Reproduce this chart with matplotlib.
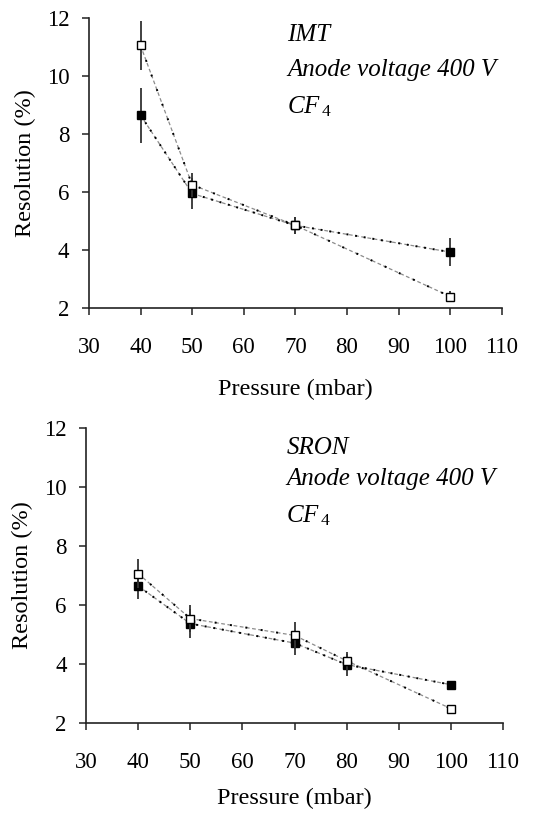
import matplotlib
matplotlib.use('Agg')
import matplotlib.pyplot as plt

plt.rcParams['font.family'] = ['Liberation Serif', 'DejaVu Serif']
plt.rcParams['mathtext.fontset'] = 'custom'
plt.rcParams['mathtext.rm'] = 'Liberation Serif'
plt.rcParams['mathtext.it'] = 'Liberation Serif:italic'

# --- data ---
imt_p = [40, 50, 70, 100]
imt_open = [11.05, 6.25, 4.85, 2.4]
imt_open_err = [0.85, 0.42, 0.28, 0.2]
imt_filled = [8.65, 5.95, 4.85, 3.93]
imt_filled_err = [0.95, 0.55, 0.28, 0.48]

sron_p = [40, 50, 70, 80, 100]
sron_open = [7.05, 5.53, 4.96, 4.1, 2.48]
sron_open_err = [0.5, 0.47, 0.44, 0.3, 0.0]
sron_filled = [6.63, 5.36, 4.7, 3.97, 3.29]
sron_filled_err = [0.43, 0.49, 0.42, 0.37, 0.0]

xticks = [30, 40, 50, 60, 70, 80, 90, 100, 110]
yticks = [2, 4, 6, 8, 10, 12]


def draw_panel(ax, p, opn, opn_err, fil, fil_err, lines, xpad):
    # grey dashed connecting lines plus sparse black dotted overlay
    ax.plot(p, fil, color='#8c8c8c', lw=0.9, dashes=(3, 2), zorder=1)
    ax.plot(p, opn, color='#8c8c8c', lw=0.9, dashes=(3, 2), zorder=1)
    ax.plot(p, fil, color='black', lw=1.4, dashes=(1, 3.5), zorder=1.5)
    ax.plot(p, opn, color='black', lw=1.4, dashes=(1, 7), zorder=1.5)

    ax.errorbar(p, fil, yerr=fil_err, fmt='s', color='#333333', ecolor='#333333',
                elinewidth=1.3, capsize=0, markersize=6, markerfacecolor='black',
                markeredgecolor='black', zorder=2)
    ax.errorbar(p, opn, yerr=opn_err, fmt='s', color='#333333', ecolor='#333333',
                elinewidth=1.3, capsize=0, markersize=6, markerfacecolor='white',
                markeredgecolor='black', markeredgewidth=1.0, zorder=3)

    ax.set_xlim(30, 110)
    ax.set_ylim(2, 12)
    ax.set_xticks(xticks)
    ax.set_yticks(yticks)
    ax.spines['top'].set_visible(False)
    ax.spines['right'].set_visible(False)
    for s in ['left', 'bottom']:
        ax.spines[s].set_linewidth(1.2)
        ax.spines[s].set_color('#222222')
    ax.tick_params(axis='x', direction='out', length=5, width=1.1, pad=16,
                   labelsize=16.5, color='#222222')
    ax.tick_params(axis='y', direction='out', length=5, width=1.1, pad=9,
                   labelsize=16.5, color='#222222')
    ax.set_xlabel('Pressure (mbar)', fontsize=17.5, labelpad=xpad)
    ax.set_ylabel('Resolution (%)', fontsize=17.5, labelpad=8)

    for (yf, txt) in lines:
        ax.text(0.48, yf, txt, transform=ax.transAxes, fontsize=18,
                style='italic', ha='left', va='center')


fig = plt.figure(figsize=(5.42, 8.13), dpi=100)
ax1 = fig.add_axes([0.164, 0.621, 0.762, 0.357])
ax2 = fig.add_axes([0.159, 0.111, 0.769, 0.363])

cf4 = r'$CF_{\,\mathit{4}}$'
draw_panel(ax1, imt_p, imt_open, imt_open_err, imt_filled, imt_filled_err,
           [(0.942, 'IMT'), (0.822, 'Anode voltage 400 V'), (0.694, cf4)], 15)
draw_panel(ax2, sron_p, sron_open, sron_open_err, sron_filled, sron_filled_err,
           [(0.932, 'SRON'), (0.825, 'Anode voltage 400 V'), (0.70, cf4)], 11)

fig.savefig('out.png', dpi=100)
plt.close(fig)
